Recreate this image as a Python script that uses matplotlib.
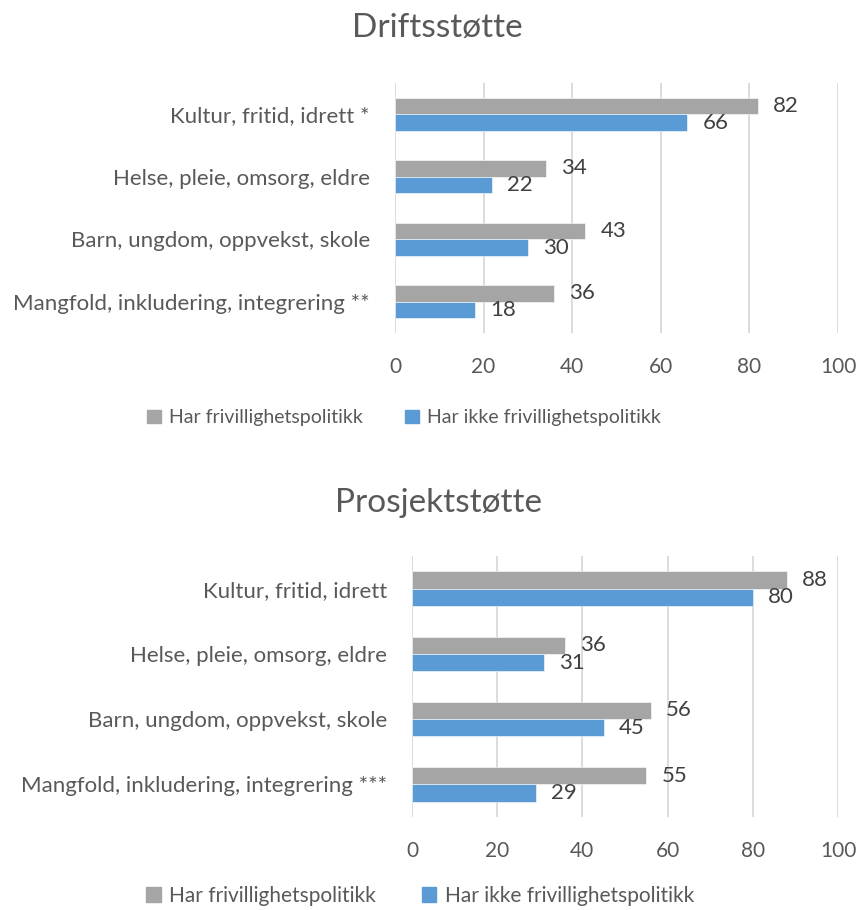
import matplotlib.pyplot as plt
import numpy as np
from matplotlib.patches import Patch

plt.rcParams["font.family"] = ["Lato", "DejaVu Sans"]

# ---- Data ----------------------------------------------------------------
categories_drift = ["Kultur, fritid, idrett *",
                    "Helse, pleie, omsorg, eldre",
                    "Barn, ungdom, oppvekst, skole",
                    "Mangfold, inkludering, integrering **"]
har_drift  = [82, 34, 43, 36]
ikke_drift = [66, 22, 30, 18]

categories_prosjekt = ["Kultur, fritid, idrett",
                       "Helse, pleie, omsorg, eldre",
                       "Barn, ungdom, oppvekst, skole",
                       "Mangfold, inkludering, integrering ***"]
har_prosjekt  = [88, 36, 56, 55]
ikke_prosjekt = [80, 31, 45, 29]

series_labels = ["Har frivillighetspolitikk", "Har ikke frivillighetspolitikk"]
x_ticks = [0, 20, 40, 60, 80, 100]

GRAY = "#A5A5A5"
BLUE = "#5B9BD5"
TEXT = "#595959"
LABEL = "#404040"
GRID = "#D9D9D9"

W, H = 858, 910
fig = plt.figure(figsize=(W / 100, H / 100), dpi=100)


def px_axes(left, top, right, bottom):
    return fig.add_axes([left / W, 1 - bottom / H, (right - left) / W, (bottom - top) / H])


def draw_panel(ax, cats, har, ikke):
    y = np.arange(len(cats))
    h = 0.265
    ax.barh(y - h / 2, har, height=h, color=GRAY, edgecolor="white", linewidth=0.4)
    ax.barh(y + h / 2, ikke, height=h, color=BLUE, edgecolor="white", linewidth=0.4)
    for yy, v in zip(y - h / 2, har):
        ax.annotate(str(v), xy=(v, yy), xytext=(15, 0), textcoords="offset pixels",
                    ha="left", va="center", fontsize=16, color=LABEL)
    for yy, v in zip(y + h / 2, ikke):
        ax.annotate(str(v), xy=(v, yy), xytext=(15, 0), textcoords="offset pixels",
                    ha="left", va="center", fontsize=16, color=LABEL)
    ax.set_xlim(0, 100)
    ax.set_ylim(len(cats) - 0.5, -0.5)
    ax.set_xticks(x_ticks)
    ax.set_yticks(y)
    ax.set_yticklabels(cats, fontsize=16)
    ax.tick_params(axis="both", length=0, labelcolor=TEXT)
    ax.tick_params(axis="x", labelsize=15, pad=17)
    ax.tick_params(axis="y", pad=18)
    ax.grid(True, axis="x", color=GRID, linewidth=1.3)
    ax.set_axisbelow(True)
    for s in ax.spines.values():
        s.set_visible(False)


ax1 = px_axes(395, 83, 838, 333)
draw_panel(ax1, categories_drift, har_drift, ikke_drift)
ax2 = px_axes(412, 556, 838, 817)
draw_panel(ax2, categories_prosjekt, har_prosjekt, ikke_prosjekt)

fig.text(437 / W, 1 - 28 / H, "Driftsstøtte", ha="center", va="center",
         fontsize=24, color=TEXT)
fig.text(438 / W, 1 - 503 / H, "Prosjektstøtte", ha="center", va="center",
         fontsize=24, color=TEXT)

handles = [Patch(color=GRAY), Patch(color=BLUE)]
for xc, yc, fs in ((404, 418, 14), (420, 896, 15)):
    fig.legend(handles, series_labels, loc="center", bbox_to_anchor=(xc / W, 1 - yc / H),
               ncol=2, frameon=False, fontsize=fs, labelcolor=TEXT,
               handlelength=0.7, handleheight=0.7, handletextpad=0.4, columnspacing=2.2)

fig.savefig("out.png", dpi=100)
